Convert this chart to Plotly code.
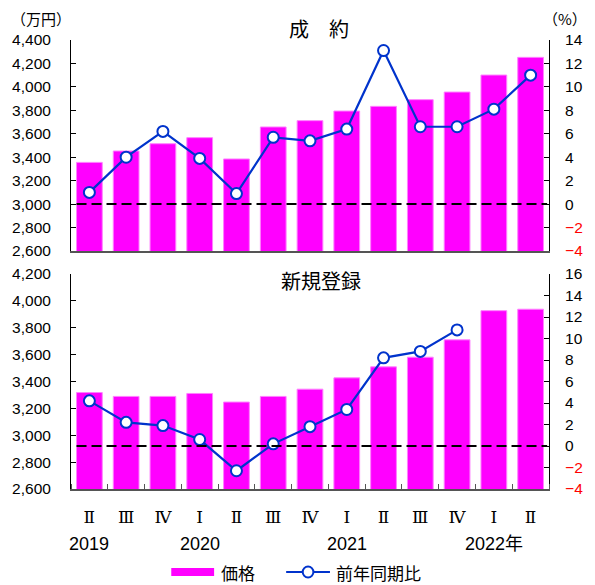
import plotly.graph_objects as go

# Quarter axis (2019 Q2 .. 2022 Q2)
quarters = ["Ⅱ", "Ⅲ", "Ⅳ", "Ⅰ", "Ⅱ", "Ⅲ", "Ⅳ", "Ⅰ", "Ⅱ", "Ⅲ", "Ⅳ", "Ⅰ", "Ⅱ"]
year_labels = ["2019", "2020", "2021", "2022年"]
year_positions = [0, 3, 7, 11]

# 成約: price (万円) and year-on-year change (%)
contract_price = [3356, 3453, 3515, 3567, 3385, 3658, 3712, 3794, 3834, 3891, 3956, 4101, 4252]
contract_yoy = [1.0, 4.0, 6.2, 3.9, 0.9, 5.7, 5.4, 6.4, 13.1, 6.6, 6.6, 8.1, 11.0]

# 新規登録: price (万円) and year-on-year change (%)
listing_price = [3318, 3289, 3289, 3311, 3247, 3289, 3343, 3427, 3509, 3581, 3710, 3927, 3938]
listing_yoy = [4.2, 2.2, 1.9, 0.6, -2.3, 0.2, 1.8, 3.4, 8.2, 8.8, 10.8, None, None]

W, H = 595, 585
ML, MR, MT, MB = 71, 33, 40, 96
PW, PH = W - ML - MR, H - MT - MB


def px2x(px):
    return (px - ML) / PW


def py2y(py):
    return (H - MB - py) / PH


x = list(range(len(quarters)))

BAR = "#FF00FF"
BAR_EDGE = "#FF80FF"
LINE = "#0033CC"
FONT = "Liberation Sans, Noto Sans CJK JP, sans-serif"
JP = "Noto Sans CJK JP, sans-serif"
ROMAN = "DejaVu Serif, serif"

fig = go.Figure()


def add_panel(price, yoy, xa, ya, ya2):
    fig.add_trace(go.Bar(
        x=x, y=price, xaxis=xa, yaxis=ya, name="価格",
        marker=dict(color=BAR, line=dict(color=BAR_EDGE, width=1)),
        showlegend=False, hoverinfo="y",
    ))
    fig.add_trace(go.Scatter(
        x=x, y=yoy, xaxis=xa, yaxis=ya2, name="前年同期比",
        mode="lines+markers",
        line=dict(color=LINE, width=2.2),
        marker=dict(size=11, color="white", line=dict(color=LINE, width=2)),
        connectgaps=False, showlegend=False,
    ))


add_panel(contract_price, contract_yoy, "x", "y", "y2")
add_panel(listing_price, listing_yoy, "x2", "y3", "y4")


def right_ticks(lo, hi):
    vals = list(range(lo, hi + 1, 2))
    txt = []
    for v in vals:
        if v < 0:
            txt.append('<span style="color:#FF0000">−%d</span>' % (-v))
        else:
            txt.append(str(v))
    return vals, txt


top_dom = [py2y(251), 1.0]
bot_dom = [0.0, py2y(274)]

left_common = dict(
    showline=True, linecolor="black", linewidth=1, showgrid=False, zeroline=False,
    ticks="inside", ticklen=5, tickcolor="black", dtick=200, tickformat=",d",
    tickfont=dict(family=FONT, size=15.5, color="black"), ticklabelstandoff=16,
)
right_common = dict(
    showline=True, linecolor="black", linewidth=1, showgrid=False, zeroline=False,
    ticks="inside", ticklen=5, tickcolor="black", side="right",
    tickfont=dict(family=FONT, size=15.5, color="black"), ticklabelstandoff=12,
    tickmode="array",
)
x_common = dict(
    range=[-0.5, len(quarters) - 0.5], showline=True, linecolor="#555555", linewidth=1.5,
    showgrid=False, zeroline=False, domain=[0, 1],
)

rv1, rt1 = right_ticks(-4, 14)
rv2, rt2 = right_ticks(-4, 16)

fig.update_layout(
    width=W, height=H,
    margin=dict(l=ML, r=MR, t=MT, b=MB, pad=0),
    paper_bgcolor="white", plot_bgcolor="white",
    bargap=0.3,
    font=dict(family=FONT, color="black"),
    xaxis=dict(anchor="y", showticklabels=False, ticks="", **x_common),
    yaxis=dict(domain=top_dom, range=[2600, 4400], **left_common),
    yaxis2=dict(overlaying="y", anchor="x", range=[-4, 14], tickvals=rv1, ticktext=rt1, **right_common),
    xaxis2=dict(
        anchor="y3", tickmode="array", tickvals=x, ticktext=quarters, ticks="",
        tickfont=dict(family=ROMAN, size=17, color="black"), ticklabelstandoff=12,
        minor=dict(ticks="inside", ticklen=5, tickcolor="#555555", tick0=0.5, dtick=1, showgrid=False),
        **x_common,
    ),
    yaxis3=dict(domain=bot_dom, range=[2600, 4200], anchor="x2", **left_common),
    yaxis4=dict(overlaying="y3", anchor="x2", range=[-4, 16], tickvals=rv2, ticktext=rt2, **right_common),
)

# Zero reference lines of the percentage axes
for xr, yr in (("x", "y2"), ("x2", "y4")):
    fig.add_shape(type="line", xref=xr, yref=yr, x0=-0.35, x1=len(quarters) - 0.55, y0=0, y1=0,
                  line=dict(color="black", width=2, dash="10px,5px"), layer="above")

ann = []
# Panel titles
ann.append(dict(text="成　約", x=px2x(326), y=py2y(29), xref="paper", yref="paper",
                showarrow=False, font=dict(family=JP, size=20, color="black"),
                xanchor="center", yanchor="middle"))
ann.append(dict(text="新規登録", x=px2x(328), y=py2y(280), xref="paper", yref="paper",
                showarrow=False, font=dict(family=JP, size=20, color="black"),
                xanchor="center", yanchor="middle"))
# Unit labels
ann.append(dict(text="（万円）", x=px2x(40), y=py2y(19), xref="paper", yref="paper",
                showarrow=False, font=dict(family=JP, size=15, color="black"),
                xanchor="center", yanchor="middle", borderpad=0))
ann.append(dict(text="（%）", x=px2x(578), y=py2y(19), xref="paper", yref="paper",
                showarrow=False, font=dict(family=JP, size=15, color="black"),
                xanchor="center", yanchor="middle", borderpad=0))
# Year labels under the quarter ticks
for pos, lab in zip(year_positions, year_labels):
    ann.append(dict(text=lab, x=pos, y=py2y(544), xref="x2", yref="paper",
                    showarrow=False, font=dict(family=FONT, size=18, color="black"),
                    xanchor="center", yanchor="middle"))

# Legend
ly = 572
fig.add_shape(type="rect", xref="paper", yref="paper",
              x0=px2x(174), x1=px2x(218), y0=py2y(ly + 4), y1=py2y(ly - 4),
              fillcolor=BAR, line=dict(width=0))
ann.append(dict(text="価格", x=px2x(224), y=py2y(ly), xref="paper", yref="paper",
                showarrow=False, font=dict(family=JP, size=17, color="black"),
                xanchor="left", yanchor="middle", borderpad=0))
fig.add_shape(type="line", xref="paper", yref="paper",
              x0=px2x(292), x1=px2x(337), y0=py2y(ly), y1=py2y(ly),
              line=dict(color=LINE, width=2.2))
fig.add_shape(type="circle", xref="paper", yref="paper",
              x0=px2x(309), x1=px2x(320), y0=py2y(ly + 5.5), y1=py2y(ly - 5.5),
              fillcolor="white", line=dict(color=LINE, width=2))
ann.append(dict(text="前年同期比", x=px2x(342), y=py2y(ly), xref="paper", yref="paper",
                showarrow=False, font=dict(family=JP, size=17, color="black"),
                xanchor="left", yanchor="middle", borderpad=0))

fig.update_layout(annotations=ann)

fig.write_html("out.html")
